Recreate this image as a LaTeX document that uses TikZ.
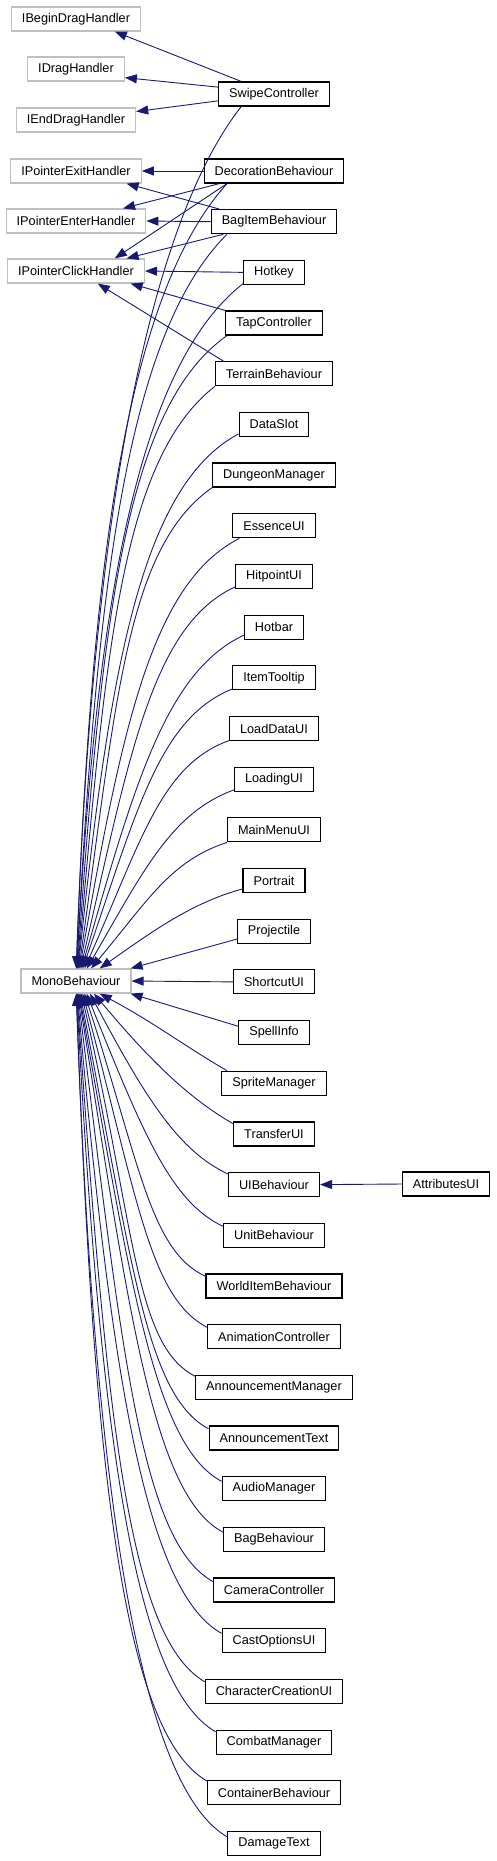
\documentclass[tikz,border=0pt]{standalone}
\usepackage{fontspec}
\setmainfont{Liberation Sans}
\usepackage{tikz}
\usetikzlibrary{arrows.meta}
\definecolor{edgeblue}{RGB}{25,25,112}
\definecolor{ifacegray}{RGB}{191,191,191}

\tikzset{
  cls/.style={draw=black, line width=1.2pt, fill=white, inner xsep=10.5pt,
              inner ysep=0pt, minimum height=24pt, font=\fontsize{12.7}{15}\selectfont},
  iface/.style={cls, draw=ifacegray},
  inh/.style={draw=edgeblue, line width=0.9pt, -{Triangle[length=12pt, width=9pt]}}
}

\begin{document}
\begin{tikzpicture}[x=1pt, y=-1pt]
    \useasboundingbox (0,0) rectangle (497,1861);
    \node[iface] (ibegin) at (76,19) {IBeginDragHandler};
    \node[iface] (idrag) at (76,69) {IDragHandler};
    \node[iface] (iend) at (76,120) {IEndDragHandler};
    \node[iface] (iexit) at (76,171) {IPointerExitHandler};
    \node[iface] (ienter) at (76,221) {IPointerEnterHandler};
    \node[iface] (iclick) at (76,271) {IPointerClickHandler};
    \node[iface] (mono) at (76,981) {MonoBehaviour};
    \node[cls] (swipe) at (274,94) {SwipeController};
    \foreach \n/\t [count=\i from 2] in {deco/DecorationBehaviour, bagitem/BagItemBehaviour,
        hotkey/Hotkey, tap/TapController, terrain/TerrainBehaviour, dataslot/DataSlot,
        dungeon/DungeonManager, essence/EssenceUI, hitpoint/HitpointUI, hotbar/Hotbar,
        tooltip/ItemTooltip, loaddata/LoadDataUI, loading/LoadingUI, mainmenu/MainMenuUI,
        portrait/Portrait, projectile/Projectile, shortcut/ShortcutUI, spellinfo/SpellInfo,
        sprite/SpriteManager, transfer/TransferUI, uibeh/UIBehaviour, unit/UnitBehaviour,
        worlditem/WorldItemBehaviour, anim/AnimationController, annmgr/AnnouncementManager,
        anntext/AnnouncementText, audio/AudioManager, bag/BagBehaviour, camera/CameraController,
        castopt/CastOptionsUI, charcreate/CharacterCreationUI, combat/CombatManager,
        container/ContainerBehaviour, damage/DamageText}
      \node[cls] (\n) at (274,{171+(\i-2)*50.68}) {\t};
    \node[cls] (attrui) at (446,1184) {AttributesUI};

    % interfaces
    \draw[inh] (swipe.159) -- (ibegin.-18);
    \draw[inh] (swipe.173) -- (idrag.-10);
    \draw[inh] (swipe.187) -- (iend.8);
    \draw[inh] (deco.west) -- (iexit.east);
    \draw[inh] (deco.193) -- (ienter.15);
    \draw[inh] (bagitem.167) -- (iexit.-14);
    \draw[inh] (bagitem.west) -- (ienter.east);
    \draw[inh] (deco.195) -- (iclick.18);
    \draw[inh] (bagitem.194) -- (iclick.14);
    \draw[inh] (hotkey.west) -- (iclick.east);
    \draw[inh] (tap.north west) -- (iclick.-13);
    \draw[inh] (terrain.166) -- (iclick.-30);
    \draw[inh] (attrui.west) -- (uibeh.east);

    % MonoBehaviour
    \draw[inh] (projectile.192) -- (mono.13);
    \draw[inh] (shortcut.west) -- (mono.east);
    \draw[inh] (spellinfo.170) -- (mono.-13);
    \foreach \n/\s/\o/\a/\i/\d in {swipe/201/232/89/88/17, deco/195/228/88/88/16,
        bagitem/195/225/87/87/15, hotkey/200/218/86/87/14, tap/195/215/84/86/13,
        terrain/south west/218/82/85/12, dataslot/195/208/80/84/11,
        dungeon/south west/215/77/82/10, essence/200/207/74/80/9, hitpoint/195/205/70/77/8,
        hotbar/195/205/66/74/7, tooltip/195/202/62/71/6, loaddata/195/200/56/66/5,
        loading/195/200/49/60/4, mainmenu/195/198/40/50/3, portrait/195/195/28/35/2}
      \draw[inh] (\n.\s) to[out=\o, in=\i, out distance={40+6.5*\d}, in distance={26*\d+10}] (mono.\a);
    \foreach \n/\s/\o/\a/\i/\d in {sprite/165/150/-28/-28/2, transfer/166/150/-35/-50/3,
        uibeh/167/155/-42/-62/4, unit/170/155/-50/-68/5, worlditem/172/155/-56/-72/6,
        anim/172/153/-62/-75/7, annmgr/172/153/-67/-77/8, anntext/172/152/-72/-79/9,
        audio/172/152/-76/-80/10, bag/172/152/-79/-81/11, camera/172/151/-82/-83/12,
        castopt/172/151/-84/-85/13, charcreate/172/150/-86/-86/14, combat/170/150/-87/-87/15,
        container/170/150/-88/-88/16, damage/172/150/-89/-88/17}
      \draw[inh] (\n.\s) to[out=\o, in=\i, out distance={40+3.5*\d}, in distance={30*\d}] (mono.\a);
\end{tikzpicture}
\end{document}
